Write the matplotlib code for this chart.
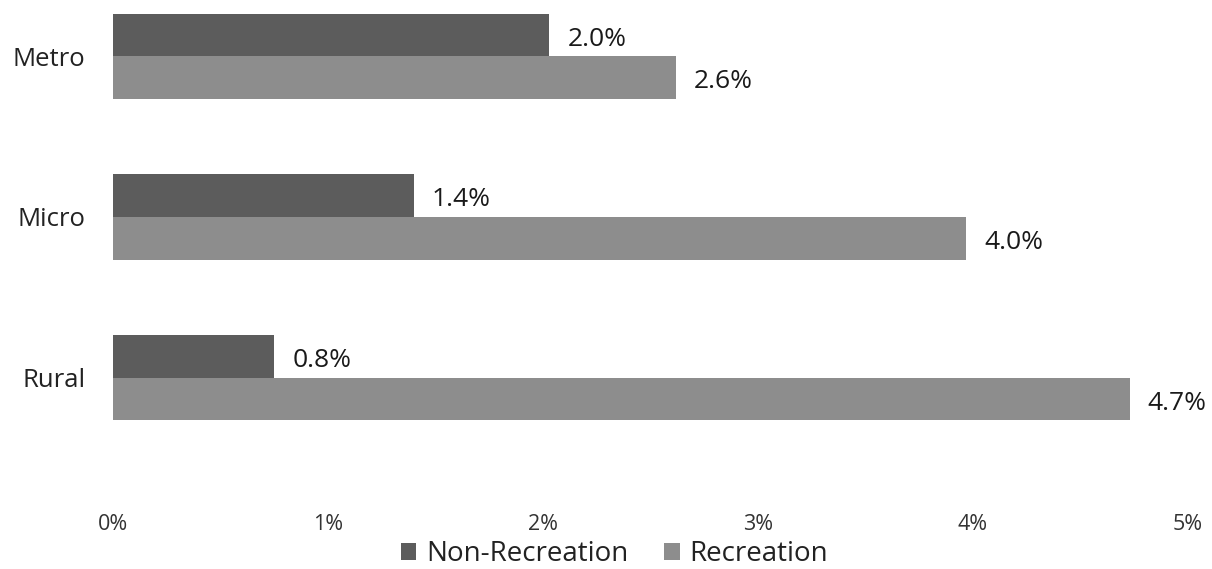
import matplotlib
matplotlib.use("Agg")
import matplotlib.pyplot as plt
import numpy as np

categories = ["Metro", "Micro", "Rural"]
non_recreation = [2.03, 1.40, 0.75]
recreation = [2.62, 3.97, 4.73]
value_labels_non = ["2.0%", "1.4%", "0.8%"]
value_labels_rec = ["2.6%", "4.0%", "4.7%"]
x_ticks = [0, 1, 2, 3, 4, 5]
x_tick_labels = ["0%", "1%", "2%", "3%", "4%", "5%"]

plt.rcParams['font.family'] = ['Open Sans', 'DejaVu Sans']

fig = plt.figure(figsize=(12.12, 5.69), dpi=100)
ax = fig.add_axes([0.0932, 0.195, 0.8868, 0.791])

y = np.arange(len(categories))
h = 0.265
c_non = "#5c5c5c"
c_rec = "#8d8d8d"
ax.barh(y - h / 2, non_recreation, height=h, color=c_non, label="Non-Recreation")
ax.barh(y + h / 2, recreation, height=h, color=c_rec, label="Recreation")

for yi, v, t in zip(y, non_recreation, value_labels_non):
    ax.annotate(t, (v, yi - h / 2), xytext=(13, -3), textcoords="offset points",
                va="center", ha="left", fontsize=19, color="#1a1a1a")
for yi, v, t in zip(y, recreation, value_labels_rec):
    ax.annotate(t, (v, yi + h / 2), xytext=(13, -3), textcoords="offset points",
                va="center", ha="left", fontsize=19, color="#1a1a1a")

ax.set_xlim(0, 5)
ax.set_ylim(2.5, -0.3)
ax.set_xticks(x_ticks)
ax.set_xticklabels(x_tick_labels, fontsize=15.5, color="#333333")
ax.set_yticks(y)
ax.set_yticklabels(categories, fontsize=18.5, color="#222222")
ax.tick_params(axis="x", length=0, pad=40)
ax.tick_params(axis="y", length=0, pad=20)
for s in ax.spines.values():
    s.set_visible(False)

fig.legend(loc="center", bbox_to_anchor=(0.507, 0.026), ncol=2, frameon=False,
           fontsize=20, handlelength=0.55, handleheight=0.55, handletextpad=0.35,
           columnspacing=1.3, labelcolor="#222222", borderpad=0.1)

fig.savefig("out.png", dpi=100, facecolor="white")
